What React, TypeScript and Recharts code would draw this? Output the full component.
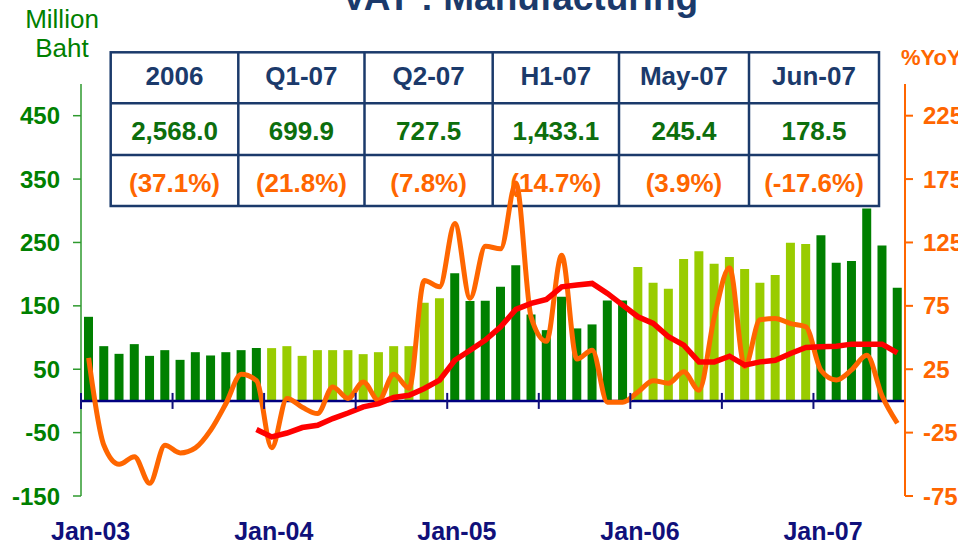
import React from "react";
import { ComposedChart, Bar, Line, XAxis, YAxis, ReferenceLine, Cell } from "recharts";

// monthly VAT collection, manufacturing (million baht)
const vat2003 = [132.7, 86.4, 74.3, 89.6, 71.1, 80.1, 64.8, 76.9, 71.7, 76.9, 80.1, 83.5];
const vat2004 = [83.3, 86.4, 71.1, 80.1, 80.1, 80.1, 73.8, 76.9, 86.4, 86.4, 154.8, 161.8];
const vat2005 = [201.3, 157.5, 157.9, 180.1, 213.9, 136.5, 111.7, 164.3, 114.4, 120.7, 158.6, 158.6];
const vat2006 = [211.2, 186.4, 176.9, 223.9, 236.0, 216.6, 227.0, 208.0, 186.4, 198.6, 249.5, 247.5];
const vat2007 = [261.3, 218.0, 220.6, 303.6, 245.4, 178.5];

// %YoY (orange)
const yoy2003 = [34, -35, -50, -44, -65, -35, -41, -37, -23, -2, 21, 16];
const yoy2004 = [-37, 2, -5, -10, 11, 2, 15, 0.5, 21, 10, 95, 90];
const yoy2005 = [140, 81, 122, 120, 172, 66, 47, 115, 33, 40, -1, -1];
const yoy2006 = [7, 16, 14, 23, 8.5, 66, 105, 27, 64, 65, 61, 58.5];
const yoy2007 = [24, 16.5, 24.5, 36, 3.9, -17.6];

// trend %YoY (red)
const trend2003 = [null, null, null, null, null, null, null, null, null, null, null, -22.6];
const trend2004 = [-28.4, -25.3, -21, -19.2, -13.9, -9.5, -4.7, -2.1, 2.7, 4.5, 9.8, 16.4];
const trend2005 = [32.1, 40, 48, 58.5, 72.2, 76.9, 80.1, 90, 91.4, 92.7, 84.8, 75.6];
const trend2006 = [66.4, 61.1, 50.6, 44, 30.8, 30.8, 35.3, 28.2, 30.8, 32.1, 37.4, 42.2];
const trend2007 = [42.7, 43.2, 44.8, 44.8, 44.8, 37.9];

const years = ["03", "04", "05", "06", "07"];
const monthNames = ["Jan", "Feb", "Mar", "Apr", "May", "Jun", "Jul", "Aug", "Sep", "Oct", "Nov", "Dec"];
const xTickLabels = ["Jan-03", "Jan-04", "Jan-05", "Jan-06", "Jan-07"];
const leftTicks = [-150, -50, 50, 150, 250, 350, 450];
const rightTicks = [-75, -25, 25, 75, 125, 175, 225];

const tableHeads = ["2006", "Q1-07", "Q2-07", "H1-07", "May-07", "Jun-07"];
const tableValues = ["2,568.0", "699.9", "727.5", "1,433.1", "245.4", "178.5"];
const tableGrowth = ["(37.1%)", "(21.8%)", "(7.8%)", "(14.7%)", "(3.9%)", "(-17.6%)"];

const vatByYear = [vat2003, vat2004, vat2005, vat2006, vat2007];
const yoyByYear = [yoy2003, yoy2004, yoy2005, yoy2006, yoy2007];
const trendByYear = [trend2003, trend2004, trend2005, trend2006, trend2007];

const data = vatByYear.flatMap((vals, y) =>
  vals.map((v, m) => ({
    month: `${monthNames[m]}-${years[y]}`,
    year: y,
    vat: v,
    yoy: yoyByYear[y][m],
    trend: trendByYear[y][m],
  }))
);

const W = 958;
const H = 546;
const PLOT_L = 81;
const PLOT_R = 905;
const PLOT_T = 84;
const PLOT_B = 496;
const BAND = (PLOT_R - PLOT_L) / data.length;
const ZERO_Y = PLOT_T + ((PLOT_B - PLOT_T) * 500) / 650;

const FONT = "'Liberation Sans', Arial, sans-serif";
const NAVY = "#10107a";
const TABLE_NAVY = "#1b3a6b";
const DARK = "#008000";
const LIGHT = "#99cc00";
const ORANGE = "#ff6600";
const RED = "#ff0000";

const colX = [110.7, 238.3, 364.5, 492.7, 619, 749, 879];
const rowY = [52.3, 103.3, 155, 206];

function MonthTick(props: any) {
  const { x, payload } = props;
  const i = data.findIndex((d) => d.month === payload.value);
  return (
    <g>
      {i % 6 === 0 && (
        <line x1={x - BAND / 2} x2={x - BAND / 2} y1={ZERO_Y - 8} y2={ZERO_Y + 8} stroke={NAVY} strokeWidth={2} />
      )}
      {xTickLabels.includes(payload.value) && (
        <text x={x + 2} y={540} textAnchor="middle" fill={NAVY} fontSize={25} fontWeight="bold" fontFamily={FONT}>
          {payload.value}
        </text>
      )}
    </g>
  );
}

function Background() {
  return (
    <svg width={W} height={H} style={{ position: "absolute", left: 0, top: 0 }} fontFamily={FONT}>
      <text x={520} y={10} textAnchor="middle" fontSize={37} fontWeight="bold" fill={TABLE_NAVY}>
        VAT : Manufacturing
      </text>
      <text x={62} y={28} textAnchor="middle" fontSize={26} fill={DARK}>Million</text>
      <text x={62} y={57} textAnchor="middle" fontSize={26} fill={DARK}>Baht</text>
      <text x={901} y={65} fontSize={22} fontWeight="bold" fill={ORANGE}>%YoY</text>
      <rect x={colX[0]} y={rowY[0]} width={colX[6] - colX[0]} height={rowY[3] - rowY[0]} fill="#fff" stroke={TABLE_NAVY} strokeWidth={2.5} />
      {colX.slice(1, 6).map((cx) => (
        <line key={cx} x1={cx} x2={cx} y1={rowY[0]} y2={rowY[3]} stroke={TABLE_NAVY} strokeWidth={2.5} />
      ))}
      {rowY.slice(1, 3).map((ry) => (
        <line key={ry} x1={colX[0]} x2={colX[6]} y1={ry} y2={ry} stroke={TABLE_NAVY} strokeWidth={2.5} />
      ))}
      {tableHeads.map((t, i) => (
        <text key={t} x={(colX[i] + colX[i + 1]) / 2} y={85} textAnchor="middle" fontSize={26} fontWeight="bold" fill={TABLE_NAVY}>
          {t}
        </text>
      ))}
      {tableValues.map((t, i) => (
        <text key={t} x={(colX[i] + colX[i + 1]) / 2} y={140} textAnchor="middle" fontSize={26} fontWeight="bold" fill="#0d6e0d">
          {t}
        </text>
      ))}
      {tableGrowth.map((t, i) => (
        <text key={t} x={(colX[i] + colX[i + 1]) / 2} y={192} textAnchor="middle" fontSize={26} fontWeight="bold" fill={ORANGE}>
          {t}
        </text>
      ))}
    </svg>
  );
}

export default function App() {
  return (
    <div style={{ position: "absolute", left: 0, top: 0, width: W, height: H, background: "#fff", fontFamily: FONT }}>
      <Background />
      <div style={{ position: "absolute", left: 0, top: 0 }}>
        <ComposedChart width={W} height={H} data={data} margin={{ top: PLOT_T, right: 0, bottom: 0, left: 0 }}>
          <XAxis dataKey="month" height={50} interval={0} axisLine={false} tickLine={false} tick={<MonthTick />} />
          <YAxis
            yAxisId="left"
            width={81}
            domain={[-150, 500]}
            ticks={leftTicks}
            interval={0}
            stroke="#2e9a2e"
            strokeWidth={1.5}
            tickSize={8}
            tickMargin={13}
            tick={{ fill: DARK, fontSize: 24, fontWeight: "bold", fontFamily: FONT }}
          />
          <YAxis
            yAxisId="right"
            orientation="right"
            width={53}
            domain={[-75, 250]}
            ticks={rightTicks}
            interval={0}
            stroke={ORANGE}
            strokeWidth={2}
            tickSize={8}
            tickMargin={10}
            tick={{ fill: ORANGE, fontSize: 24, fontWeight: "bold", fontFamily: FONT }}
          />
          <Bar yAxisId="left" dataKey="vat" barSize={9} isAnimationActive={false}>
            {data.map((d) => (
              <Cell key={d.month} fill={d.year % 2 === 0 ? DARK : LIGHT} />
            ))}
          </Bar>
          <ReferenceLine yAxisId="left" y={0} stroke="#000080" strokeWidth={2.5} />
          <Line yAxisId="right" dataKey="yoy" type="monotone" stroke={ORANGE} strokeWidth={5} dot={false} isAnimationActive={false} />
          <Line yAxisId="right" dataKey="trend" type="linear" stroke={RED} strokeWidth={5.5} dot={false} isAnimationActive={false} />
        </ComposedChart>
      </div>
    </div>
  );
}
